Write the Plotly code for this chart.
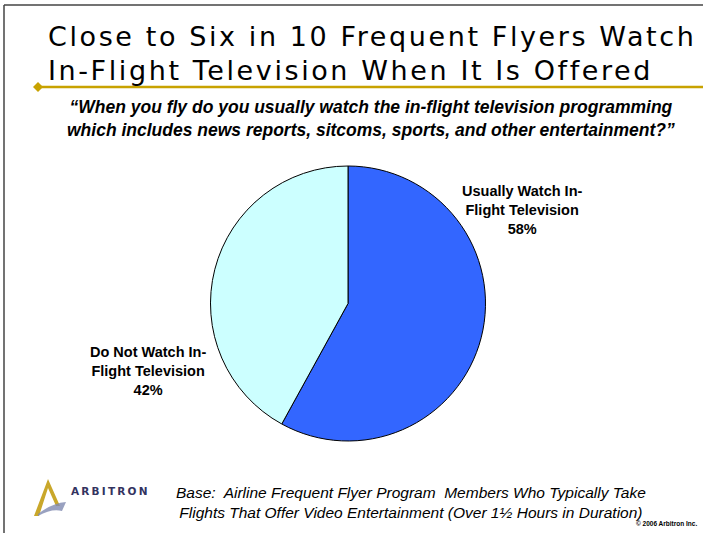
import plotly.graph_objects as go

# Survey result
labels = ["Usually Watch In-<br>Flight Television", "Do Not Watch In-<br>Flight Television"]
values = [58, 42]
colors = ["#3366FF", "#CCFFFF"]

title_lines = ["Close to Six in 10 Frequent Flyers Watch",
               "In-Flight Television When It Is Offered"]

W, H = 703, 533

def px(x):
    return x / W

def py(y):
    return 1 - y / H

fig = go.Figure()

fig.add_trace(go.Pie(
    labels=labels,
    values=values,
    sort=False,
    direction="clockwise",
    rotation=0,
    textinfo="none",
    hoverinfo="label+percent",
    marker=dict(colors=colors, line=dict(color="#000000", width=1)),
    domain=dict(x=[px(210), px(486)], y=[py(441), py(166)]),
    showlegend=False,
))

total = sum(values)
label_pos = [(522, 210), (148, 371)]
annotations = []
for lab, v, (lx, ly) in zip(labels, values, label_pos):
    annotations.append(dict(
        x=px(lx), y=py(ly), xref="paper", yref="paper",
        text=f"<b>{lab}<br>{round(100 * v / total)}%</b>",
        showarrow=False, align="center", xanchor="center", yanchor="middle",
        font=dict(family="Liberation Sans, Arial", size=14.5, color="#000000"),
    ))

# Title, one annotation per line
for line, ly in zip(title_lines, [37, 70]):
    annotations.append(dict(
        x=px(46), y=py(ly), xref="paper", yref="paper",
        text=f'<span style="letter-spacing:2.6px">{line}</span>',
        showarrow=False, align="left", xanchor="left", yanchor="middle",
        font=dict(family="DejaVu Sans", size=27, color="#000000"),
    ))

# Question text
annotations.append(dict(
    x=px(371), y=py(119), xref="paper", yref="paper",
    text="<b><i>\u201cWhen you fly do you usually watch the in-flight television programming<br>"
         "which includes news reports, sitcoms, sports, and other entertainment?\u201d</i></b>",
    showarrow=False, align="center", xanchor="center", yanchor="middle",
    font=dict(family="Liberation Sans, Arial", size=17.5, color="#000000"),
))

# Base note
annotations.append(dict(
    x=px(411), y=py(502), xref="paper", yref="paper",
    text="<i>Base:  Airline Frequent Flyer Program  Members Who Typically Take<br>"
         "Flights That Offer Video Entertainment (Over 1\u00bd Hours in Duration)</i>",
    showarrow=False, align="center", xanchor="center", yanchor="middle",
    font=dict(family="Liberation Sans, Arial", size=15.5, color="#000000"),
))

# Copyright
annotations.append(dict(
    x=px(699), y=py(523), xref="paper", yref="paper",
    text="<b>\u00a9 2006 Arbitron Inc.</b>",
    showarrow=False, xanchor="right", yanchor="middle",
    font=dict(family="Liberation Sans, Arial", size=6.5, color="#000000"),
))

# Logo wordmark
annotations.append(dict(
    x=px(69), y=py(491), xref="paper", yref="paper",
    text='<b><span style="letter-spacing:2.2px">ARBITRON</span></b>',
    showarrow=False, xanchor="left", yanchor="middle",
    font=dict(family="DejaVu Sans", size=10.5, color="#33335F"),
))

shapes = [
    # slide frame
    dict(type="line", xref="paper", yref="paper", x0=px(4), x1=1, y0=py(5), y1=py(5),
         line=dict(color="#444444", width=1.5)),
    dict(type="line", xref="paper", yref="paper", x0=px(4), x1=px(4), y0=py(5), y1=0,
         line=dict(color="#444444", width=1.5)),
    # gold rule under title
    dict(type="line", xref="paper", yref="paper", x0=px(38), x1=1, y0=py(87), y1=py(87),
         line=dict(color="#C8A200", width=2.5)),
    dict(type="path", xref="paper", yref="paper",
         path=f"M {px(33)},{py(87)} L {px(38)},{py(82)} L {px(43)},{py(87)} L {px(38)},{py(92)} Z",
         fillcolor="#C8A200", line=dict(width=0)),
    # logo mark: gold chevron and blue swoosh
    dict(type="path", xref="paper", yref="paper",
         path=(f"M {px(34)},{py(516)} L {px(48)},{py(479)} L {px(60)},{py(506)} "
               f"L {px(56)},{py(506)} L {px(48)},{py(488)} L {px(39)},{py(516)} Z"),
         fillcolor="#C9A72A", line=dict(width=0)),
    dict(type="path", xref="paper", yref="paper",
         path=(f"M {px(38)},{py(514)} Q {px(52)},{py(503)} {px(66)},{py(502)} "
               f"L {px(62)},{py(511)} Q {px(52)},{py(508)} {px(38)},{py(516)} Z"),
         fillcolor="#7F8AB0", line=dict(width=0), opacity=0.8),
]

fig.update_layout(
    width=W, height=H,
    margin=dict(l=0, r=0, t=0, b=0),
    paper_bgcolor="#FFFFFF",
    plot_bgcolor="#FFFFFF",
    annotations=annotations,
    shapes=shapes,
)

fig.write_html("out.html")
